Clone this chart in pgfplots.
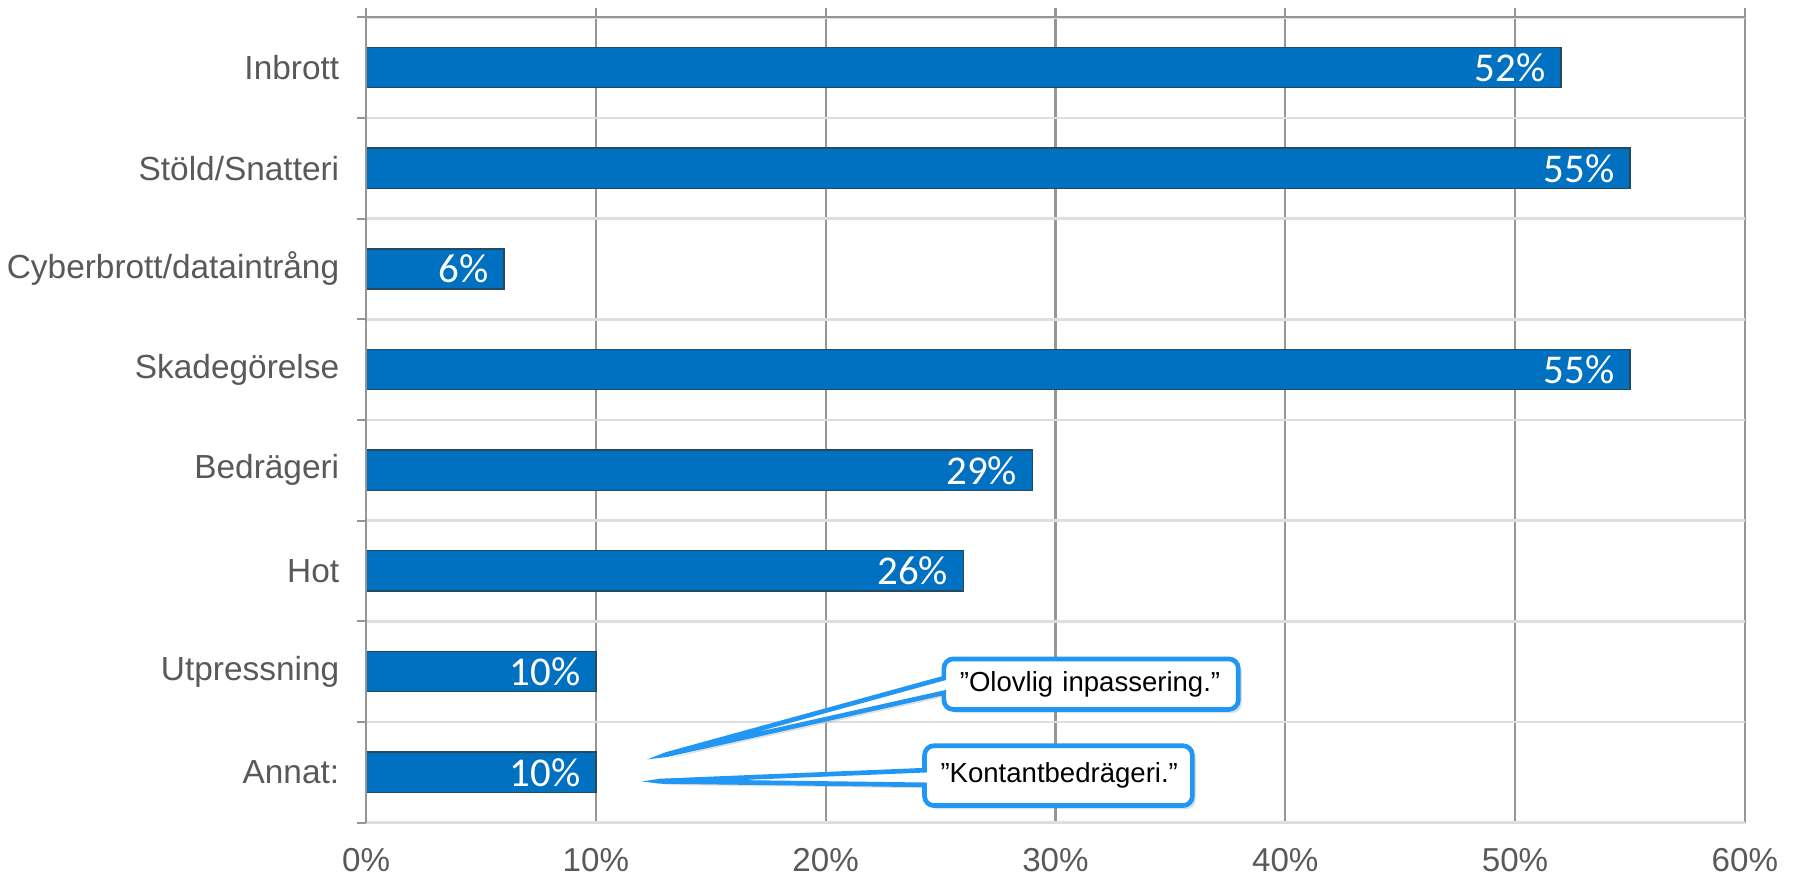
\documentclass[border=0pt]{standalone}
\usepackage{fontspec}
\setmainfont{Liberation Sans}
\newfontfamily\barfont{Carlito}
\usepackage{pgfplots}
\pgfplotsset{compat=1.18}
\usetikzlibrary{shapes.callouts,shadows}

\definecolor{barblue}{RGB}{0,112,192}
\definecolor{baredge}{RGB}{37,74,94}
\definecolor{gridgray}{RGB}{150,150,150}
\definecolor{lightgrid}{RGB}{222,222,222}
\definecolor{labelgray}{RGB}{89,89,89}
\definecolor{callblue}{RGB}{33,150,243}

\begin{document}
\begin{tikzpicture}
\begin{axis}[
    xbar,
    scale only axis,
    width=20.75cm, height=12.12cm,
    xmin=0, xmax=60,
    ymin=-0.5, ymax=7.5,
    /pgf/number format/assume math mode=true,
    axis line style={draw=none},
    tick style={gridgray, line width=0.9pt},
    tick align=outside,
    major tick length=0.14cm,
    xtick={0,10,...,60},
    xticklabel={\pgfmathprintnumber{\tick}\%},
    xtick pos=right, xticklabel pos=left,
    xticklabel style={font=\fontsize{14.2}{16}\selectfont, text=labelgray, yshift=-0.12cm},
    xmajorgrids,
    x grid style={gridgray, line width=0.9pt},
    ytick={-0.5,0.5,...,7.5},
    yticklabels={},
    ytick pos=left,
    ymajorgrids,
    y grid style={lightgrid, line width=1.1pt},
    extra y ticks={0,...,7},
    extra y tick labels={Annat:,Utpressning,Hot,Bedrägeri,Skadegörelse,Cyberbrott/dataintrång,Stöld/Snatteri,Inbrott},
    extra y tick style={major tick length=0pt, grid=none},
    yticklabel style={font=\fontsize{14.3}{16}\selectfont, text=labelgray, xshift=-8pt},
    clip=false,
    point meta=x,
    nodes near coords={\pgfmathprintnumber{\pgfplotspointmeta}\%},
    every node near coord/.append style={anchor=east, text=white, font=\barfont\fontsize{17.5}{19}\selectfont, xshift=-3pt},
]
\addplot[fill=barblue, draw=baredge, line width=0.6pt, bar width=0.4]
    coordinates {(10,0) (10,1) (26,2) (29,3) (55,4) (6,5) (55,6) (52,7)};

\draw[gridgray, line width=0.9pt] (axis cs:0,-0.5) -- (axis cs:0,7.5) -- (axis cs:60,7.5);

\node[rectangle callout, draw=callblue, line width=2pt, fill=white, rounded corners=4pt,
      drop shadow={opacity=0.25, shadow xshift=1.5pt, shadow yshift=-1.5pt},
      callout absolute pointer={(axis cs:12.8,0.16)}, callout pointer width=0.22cm,
      text width=3.95cm, inner xsep=0.24cm, minimum height=0.76cm, align=left,
      font=\fontsize{11.8}{13}\selectfont]
      at (axis cs:31.55,0.875) {”Olovlig inpassering.”};
\node[rectangle callout, draw=callblue, line width=2pt, fill=white, rounded corners=4pt,
      drop shadow={opacity=0.25, shadow xshift=1.5pt, shadow yshift=-1.5pt},
      callout absolute pointer={(axis cs:12.5,-0.09)}, callout pointer width=0.22cm,
      text width=3.55cm, inner xsep=0.24cm, minimum height=0.9cm, align=left,
      font=\fontsize{11.8}{13}\selectfont]
      at (axis cs:30.13,-0.034) {”Kontantbedrägeri.”};
\end{axis}
\pgfresetboundingbox
\path[use as bounding box] (-5.51cm,-0.79cm) rectangle (21.49cm,12.38cm);
\end{tikzpicture}
\end{document}
